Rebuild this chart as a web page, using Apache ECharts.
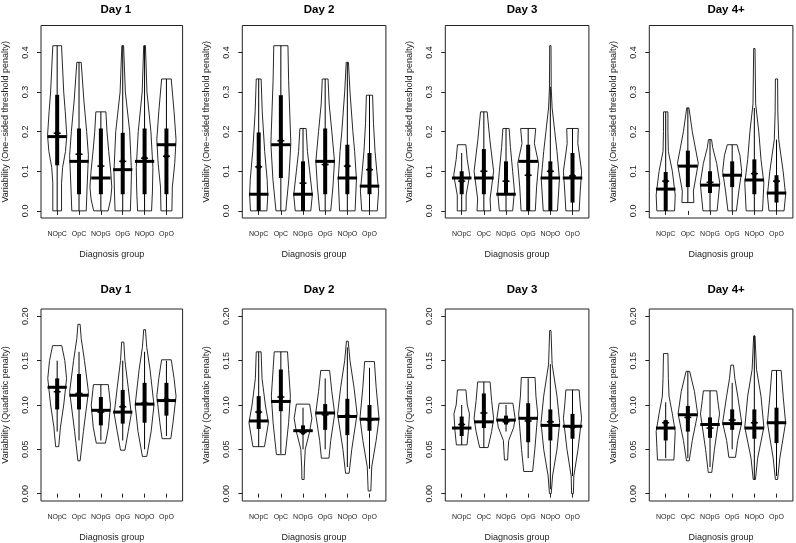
<!DOCTYPE html>
<html><head><meta charset="utf-8">
<script src="https://cdn.jsdelivr.net/npm/echarts@6/dist/echarts.min.js"></script>
<style>html,body{margin:0;padding:0;background:#fff}#c{width:796px;height:543px}</style>
</head><body><div id="c"></div>
<script>
const groups = ['NOpC','OpC','NOpG','OpG','NOpO','OpO'];
const days = ['Day 1','Day 2','Day 3','Day 4+'];
const thrTicks = [0, 0.1, 0.2, 0.3, 0.4];
const quadTicks = [0, 0.05, 0.10, 0.15, 0.20];

// ---------- One-sided threshold penalty (top row) ----------
const thrMedian = [
  [0.1875,0.125,0.083,0.104,0.125,0.167],
  [0.042,0.167,0.042,0.125,0.083,0.0625],
  [0.083,0.083,0.042,0.125,0.083,0.083],
  [0.055,0.113,0.065,0.09,0.078,0.045]];
const thrMean = [
  [0.196,0.143,0.113,0.125,0.133,0.138],
  [0.111,0.177,0.07,0.117,0.113,0.104],
  [0.075,0.1,0.075,0.09,0.1,0.088],
  [0.075,0.113,0.072,0.09,0.094,0.075]];
const thrBoxLo = [
  [0.115,0.042,0.042,0.042,0.042,0.042],
  [0,0.083,0,0.042,0.042,0.042],
  [0.042,0.042,0.042,0,0,0.021],
  [0,0.06,0.045,0.06,0.042,0.021]];
const thrBoxHi = [
  [0.293,0.208,0.208,0.197,0.208,0.208],
  [0.198,0.292,0.125,0.208,0.167,0.146],
  [0.1,0.156,0.125,0.167,0.125,0.146],
  [0.098,0.152,0.1,0.125,0.13,0.09]];
const thrWhiskLo = [
  [0,0,0,0,0,0],
  [0,0,0,0,0,0],
  [0,0,0,0,0,0],
  [0,0.021,0,0,0,0]];
const thrWhiskHi = [
  [0.417,0.375,0.25,0.417,0.417,0.333],
  [0.333,0.417,0.208,0.333,0.375,0.292],
  [0.146,0.25,0.208,0.208,0.313,0.208],
  [0.25,0.26,0.18,0.167,0.26,0.18]];
// violin outlines: [value, half-width] from bottom to top
const thrViolins = [
  [ [[0,0.2],[0.07,0.2],[0.11,0.25],[0.15,0.38],[0.19,0.44],[0.25,0.37],[0.3,0.3],[0.417,0.2]],
    [[0,0.33],[0.06,0.37],[0.14,0.43],[0.2,0.35],[0.28,0.22],[0.375,0.1]],
    [[0,0.33],[0.03,0.45],[0.06,0.5],[0.1,0.45],[0.15,0.36],[0.2,0.28],[0.25,0.23]],
    [[0,0.35],[0.05,0.38],[0.1,0.4],[0.2,0.32],[0.3,0.12],[0.417,0.04]],
    [[0,0.32],[0.05,0.36],[0.11,0.38],[0.2,0.29],[0.3,0.11],[0.417,0.04]],
    [[0,0.25],[0.06,0.27],[0.12,0.38],[0.18,0.44],[0.25,0.35],[0.333,0.22]] ],
  [ [[0,0.37],[0.04,0.41],[0.08,0.38],[0.15,0.27],[0.25,0.16],[0.333,0.11]],
    [[0,0.22],[0.08,0.36],[0.17,0.45],[0.25,0.4],[0.33,0.35],[0.417,0.32]],
    [[0,0.35],[0.04,0.42],[0.1,0.3],[0.15,0.2],[0.208,0.14]],
    [[0,0.25],[0.06,0.35],[0.125,0.42],[0.2,0.3],[0.27,0.18],[0.333,0.13]],
    [[0,0.35],[0.08,0.41],[0.15,0.33],[0.2,0.25],[0.3,0.12],[0.375,0.05]],
    [[0,0.35],[0.05,0.41],[0.1,0.33],[0.15,0.25],[0.22,0.18],[0.292,0.14]] ],
  [ [[0,0.2],[0.04,0.2],[0.09,0.36],[0.13,0.25],[0.167,0.19]],
    [[0,0.31],[0.03,0.28],[0.1,0.44],[0.18,0.27],[0.25,0.15]],
    [[0,0.3],[0.05,0.38],[0.1,0.3],[0.16,0.2],[0.208,0.14]],
    [[0,0.32],[0.06,0.38],[0.12,0.47],[0.17,0.28],[0.208,0.34]],
    [[0,0.32],[0.08,0.41],[0.15,0.3],[0.2,0.2],[0.26,0.08],[0.31,0.04],[0.417,0.03]],
    [[0,0.3],[0.05,0.35],[0.1,0.41],[0.17,0.24],[0.208,0.26]] ],
  [ [[0,0.4],[0.04,0.43],[0.1,0.3],[0.15,0.12],[0.2,0.1],[0.25,0.1]],
    [[0.021,0.27],[0.05,0.25],[0.12,0.47],[0.2,0.2],[0.26,0.05]],
    [[0,0.32],[0.07,0.44],[0.12,0.3],[0.16,0.12],[0.18,0.07]],
    [[0,0.19],[0.05,0.3],[0.1,0.43],[0.14,0.35],[0.167,0.22]],
    [[0,0.37],[0.07,0.43],[0.13,0.3],[0.2,0.2],[0.27,0.06],[0.41,0.03]],
    [[0,0.34],[0.04,0.41],[0.1,0.3],[0.18,0.1],[0.25,0.06],[0.333,0.05]] ]];

// ---------- Quadratic penalty (bottom row) ----------
const quadMedian = [
  [0.12,0.111,0.094,0.092,0.101,0.105],
  [0.082,0.104,0.071,0.091,0.087,0.084],
  [0.074,0.081,0.083,0.085,0.077,0.076],
  [0.074,0.089,0.078,0.079,0.074,0.08]];
const quadMean = [
  [0.115,0.113,0.092,0.098,0.102,0.106],
  [0.092,0.109,0.069,0.089,0.088,0.083],
  [0.078,0.091,0.081,0.082,0.081,0.075],
  [0.08,0.086,0.074,0.083,0.08,0.08]];
const quadBoxLo = [
  [0.095,0.095,0.077,0.079,0.08,0.088],
  [0.073,0.093,0.068,0.072,0.066,0.071],
  [0.065,0.074,0.078,0.058,0.06,0.062],
  [0.06,0.07,0.063,0.072,0.062,0.057]];
const quadBoxHi = [
  [0.13,0.135,0.109,0.117,0.125,0.125],
  [0.11,0.14,0.077,0.101,0.107,0.1],
  [0.087,0.113,0.088,0.102,0.095,0.09],
  [0.083,0.099,0.086,0.095,0.095,0.097]];
const quadWhiskLo = [
  [0.07,0.06,0.06,0.06,0.05,0.065],
  [0.053,0.045,0.05,0.05,0.03,0.028],
  [0.055,0.052,0.07,0.04,0.005,0.02],
  [0.04,0.04,0.03,0.05,0.016,0.02]];
const quadWhiskHi = [
  [0.15,0.16,0.123,0.15,0.16,0.15],
  [0.16,0.16,0.097,0.13,0.165,0.142],
  [0.1,0.126,0.1,0.13,0.146,0.117],
  [0.103,0.138,0.116,0.125,0.178,0.139]];
const quadViolins = [
  [ [[0.053,0.07],[0.075,0.15],[0.1,0.3],[0.13,0.43],[0.15,0.35],[0.167,0.21]],
    [[0.037,0.05],[0.07,0.2],[0.115,0.43],[0.15,0.25],[0.175,0.1],[0.191,0.05]],
    [[0.057,0.21],[0.075,0.35],[0.1,0.44],[0.123,0.34]],
    [[0.049,0.1],[0.07,0.25],[0.09,0.39],[0.12,0.25],[0.15,0.1],[0.171,0.05]],
    [[0.042,0.1],[0.07,0.3],[0.1,0.43],[0.14,0.25],[0.165,0.1],[0.185,0.04]],
    [[0.062,0.2],[0.08,0.3],[0.11,0.44],[0.13,0.35],[0.151,0.22]] ],
  [ [[0.053,0.26],[0.08,0.44],[0.1,0.3],[0.13,0.15],[0.16,0.11]],
    [[0.044,0.2],[0.08,0.35],[0.11,0.43],[0.14,0.35],[0.16,0.3]],
    [[0.016,0.05],[0.03,0.06],[0.05,0.1],[0.07,0.3],[0.085,0.4],[0.101,0.3]],
    [[0.04,0.17],[0.06,0.25],[0.09,0.43],[0.115,0.3],[0.139,0.2]],
    [[0.023,0.08],[0.05,0.2],[0.09,0.44],[0.12,0.3],[0.15,0.12],[0.172,0.04]],
    [[0.003,0.06],[0.03,0.1],[0.06,0.3],[0.085,0.43],[0.12,0.3],[0.149,0.22]] ],
  [ [[0.055,0.24],[0.07,0.3],[0.09,0.35],[0.1,0.25],[0.117,0.19]],
    [[0.052,0.19],[0.07,0.35],[0.085,0.44],[0.105,0.35],[0.126,0.28]],
    [[0.038,0.07],[0.06,0.12],[0.075,0.35],[0.085,0.41],[0.102,0.31]],
    [[0.025,0.2],[0.05,0.3],[0.09,0.43],[0.11,0.35],[0.131,0.31]],
    [[0,0.04],[0.02,0.1],[0.05,0.3],[0.08,0.42],[0.11,0.3],[0.146,0.08],[0.184,0.03]],
    [[0,0.04],[0.02,0.06],[0.05,0.25],[0.085,0.41],[0.1,0.35],[0.117,0.3]] ],
  [ [[0.038,0.37],[0.07,0.43],[0.09,0.3],[0.11,0.15],[0.13,0.12],[0.158,0.1]],
    [[0.037,0.06],[0.06,0.2],[0.09,0.44],[0.115,0.3],[0.138,0.08]],
    [[0.024,0.08],[0.05,0.2],[0.09,0.43],[0.105,0.35],[0.116,0.3]],
    [[0.041,0.15],[0.06,0.25],[0.08,0.43],[0.11,0.25],[0.13,0.12],[0.145,0.06]],
    [[0.016,0.05],[0.04,0.15],[0.075,0.43],[0.11,0.3],[0.14,0.1],[0.178,0.03]],
    [[0.016,0.05],[0.04,0.15],[0.08,0.41],[0.11,0.3],[0.139,0.21]] ]];

// ---------- layout ----------
const boxLefts = [39, 242.3, 445.3, 649.3];
const boxW = 143.6;
const rows = [
  {top:25.5, h:192.5, ymin:-0.018, ymax:0.468, ticks:thrTicks, dec:1,
   yname:'Variability (One\u2212sided threshold penalty)', titleY:-1,
   med:thrMedian, mean:thrMean, lo:thrBoxLo, hi:thrBoxHi, wlo:thrWhiskLo, whi:thrWhiskHi, vio:thrViolins},
  {top:309, h:193, ymin:-0.0083, ymax:0.2083, ticks:quadTicks, dec:2,
   yname:'Variability (Quadratic penalty)', titleY:279,
   med:quadMedian, mean:quadMean, lo:quadBoxLo, hi:quadBoxHi, wlo:quadWhiskLo, whi:quadWhiskHi, vio:quadViolins}
];

const grids = [], xAxes = [], yAxes = [], series = [], titles = [];
const font = 'Liberation Sans, Arial, Helvetica, sans-serif';

rows.forEach((r, ri) => {
  days.forEach((d, di) => {
    const k = ri*4 + di;
    grids.push({left: boxLefts[di], top: r.top, width: boxW, height: r.h,
      show: true, borderColor: '#222', borderWidth: 1, backgroundColor: 'transparent'});
    titles.push({text: d, left: boxLefts[di] + boxW/2, top: r.titleY, textAlign: 'center',
      textStyle: {fontFamily: font, fontWeight: 'bold', fontSize: 11.5, color: '#000'}});
    xAxes.push({type: 'value', gridIndex: k, min: 0.26, max: 6.74,
      axisLine: {show: false}, splitLine: {show: false},
      axisTick: {show: true, length: 4, customValues: [1,2,3,4,5,6], lineStyle: {color: '#222'}},
      axisLabel: {customValues: [1,2,3,4,5,6], formatter: v => groups[Math.round(v)-1],
        fontSize: 7, margin: 13, color: '#222', fontFamily: font},
      name: 'Diagnosis group', nameLocation: 'middle', nameGap: 32,
      nameTextStyle: {fontSize: 9, color: '#222', fontFamily: font}});
    yAxes.push({type: 'value', gridIndex: k, min: r.ymin, max: r.ymax,
      axisLine: {show: false}, splitLine: {show: false},
      axisTick: {show: true, length: 4, customValues: r.ticks, lineStyle: {color: '#222'}},
      axisLabel: {customValues: r.ticks, formatter: v => v.toFixed(r.dec), rotate: 90,
        fontSize: 9, margin: 11, color: '#222', fontFamily: font},
      name: r.yname, nameLocation: 'middle', nameGap: 31, nameRotate: 90,
      nameTextStyle: {fontSize: 9, color: '#222', fontFamily: font}});
    const med = r.med[di], mean = r.mean[di], lo = r.lo[di], hi = r.hi[di],
          wlo = r.wlo[di], whi = r.whi[di], vio = r.vio[di];
    series.push({
      type: 'custom', xAxisIndex: k, yAxisIndex: k, silent: true, animation: false,
      data: groups.map((g, i) => [i+1, med[i]]),
      encode: {x: 0, y: 1},
      renderItem: (params, api) => {
        const i = params.dataIndex;
        const xc = api.value(0);
        const prof = vio[i];
        const leftSide = prof.map(p => api.coord([xc - p[1], p[0]]));
        const rightSide = prof.slice().reverse().map(p => api.coord([xc + p[1], p[0]]));
        const pts = leftSide.concat(rightSide);
        const pW1 = api.coord([xc, wlo[i]]), pW2 = api.coord([xc, whi[i]]);
        const pB1 = api.coord([xc, lo[i]]), pB2 = api.coord([xc, hi[i]]);
        const pM1 = api.coord([xc - 0.44, med[i]]), pM2 = api.coord([xc + 0.44, med[i]]);
        const pMean = api.coord([xc, mean[i]]);
        return {type: 'group', children: [
          {type: 'polygon', shape: {points: pts}, style: {fill: '#fff', stroke: '#111', lineWidth: 0.9}},
          {type: 'line', shape: {x1: pW1[0], y1: pW1[1], x2: pW2[0], y2: pW2[1]}, style: {stroke: '#000', lineWidth: 1}},
          {type: 'line', shape: {x1: pB1[0], y1: pB1[1], x2: pB2[0], y2: pB2[1]}, style: {stroke: '#000', lineWidth: 4}},
          {type: 'line', shape: {x1: pM1[0], y1: pM1[1], x2: pM2[0], y2: pM2[1]}, style: {stroke: '#000', lineWidth: 3}},
          {type: 'circle', shape: {cx: pMean[0], cy: pMean[1], r: 2.4}, style: {fill: '#000'}},
          {type: 'line', shape: {x1: pMean[0]-3.5, y1: pMean[1], x2: pMean[0]+3.5, y2: pMean[1]}, style: {stroke: '#000', lineWidth: 1.5}}
        ]};
      }
    });
  });
});

const chart = echarts.init(document.getElementById('c'), null, {renderer: 'canvas'});
chart.setOption({
  animation: false,
  backgroundColor: '#fff',
  title: titles, grid: grids, xAxis: xAxes, yAxis: yAxes, series: series
});
</script>
</body></html>
